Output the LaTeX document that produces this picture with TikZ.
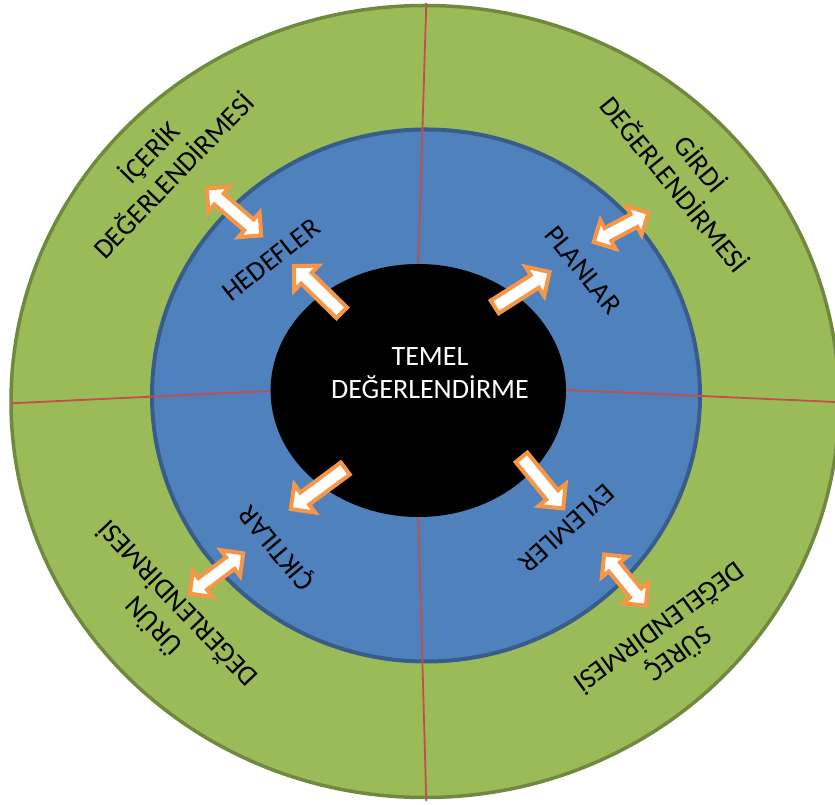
\documentclass[tikz,border=0pt]{standalone}
\usepackage{fontspec}
\setmainfont{Carlito}
\usetikzlibrary{shapes.arrows}

\definecolor{ringgreen}{HTML}{9BBB59}
\definecolor{greenedge}{HTML}{71893F}
\definecolor{ringblue}{HTML}{4F81BD}
\definecolor{blueedge}{HTML}{385D8A}
\definecolor{divider}{HTML}{C0504D}
\definecolor{arroworange}{HTML}{F79646}

\begin{document}
\begin{tikzpicture}[x=1pt,y=1pt,
  lbl/.style={font=\fontsize{28}{33}\selectfont, align=center, inner sep=0pt},
  outarrow/.style={single arrow, draw=arroworange, fill=white, line width=4pt,
    inner xsep=0pt, inner ysep=5.5pt, minimum width=31pt,
    single arrow head extend=10pt},
  twoarrow/.style={double arrow, draw=arroworange, fill=white, line width=4pt,
    inner xsep=0pt, inner ysep=5.2pt, minimum width=29pt,
    double arrow head extend=9pt},
  divline/.style={draw=divider, line width=1.8pt}
]
\useasboundingbox (0,0) rectangle (835,805);
\clip (0,0) rectangle (835,805);
\fill[white] (0,0) rectangle (835,805);

% outer ring
\filldraw[fill=ringgreen, draw=greenedge, line width=3.5pt]
  (425,403.5) ellipse [x radius=414, y radius=396];
% middle ring
\filldraw[fill=ringblue, draw=blueedge, line width=4pt]
  (426,409.5) ellipse [x radius=274, y radius=266];

% quadrant dividers
\coordinate (topin)  at (418.3,541);   \coordinate (topout) at (426.3,802);
\coordinate (botin)  at (418.3,288);   \coordinate (botout) at (426.3,4);
\coordinate (lftin)  at (270.6,414);   \coordinate (lftout) at (11,401.7);
\coordinate (rgtin)  at (566,415);     \coordinate (rgtout) at (840,402.8);
\draw[divline] (topin) -- (topout);
\draw[divline] (botin) -- (botout);
\draw[divline] (lftin) -- (lftout);
\draw[divline] (rgtin) -- (rgtout);

% core
\fill[black] (418.3,414.5) ellipse [x radius=147.7, y radius=126.5];
\node[lbl, text=white] (core) at (430,432) {TEMEL\\DEĞERLENDİRME};

% arrows leaving the core
\node[outarrow, minimum height=67pt, rotate=135.6] (aul) at (320.5,513) {};
\node[outarrow, minimum height=65pt, rotate=32.5]  (aur) at (519,513.5) {};
\node[outarrow, minimum height=68pt, rotate=216.6] (all) at (321,318.5) {};
\node[outarrow, minimum height=66pt, rotate=-50.8] (alr) at (540,325) {};

% arrows between the rings
\node[twoarrow, minimum height=72pt, rotate=-40.8] (dul) at (234,593) {};
\node[twoarrow, minimum height=62pt, rotate=28.1]  (dur) at (621,577.5) {};
\node[twoarrow, minimum height=67pt, rotate=37]    (dll) at (216.5,231.5) {};
\node[twoarrow, minimum height=66pt, rotate=-50.8] (dlr) at (625,225) {};

% middle ring labels
\node[lbl, rotate=38]   (hedef) at (271,545) {HEDEFLER};
\node[lbl, rotate=-51]  (plan)  at (583,535) {PLANLAR};
\node[lbl, rotate=-138] (eylem) at (567,277) {EYLEMLER};
\node[lbl, rotate=130]  (cikti) at (278,258) {ÇIKTILAR};

% outer ring labels
\node[lbl, rotate=46]   (icerik) at (160.5,642) {İÇERİK\\DEĞERLENDİRMESİ};
\node[lbl, rotate=-51]  (girdi)  at (688.5,631.5) {GİRDİ\\DEĞERLENDİRMESİ};
\node[lbl, rotate=133.5] (urun)  at (164.5,189) {ÜRÜN\\DEĞERLENDİRMESİ};
\node[lbl, rotate=-144] (surec)  at (670,163) {SÜREÇ\\DEĞELENDİRMESİ};
\end{tikzpicture}
\end{document}
